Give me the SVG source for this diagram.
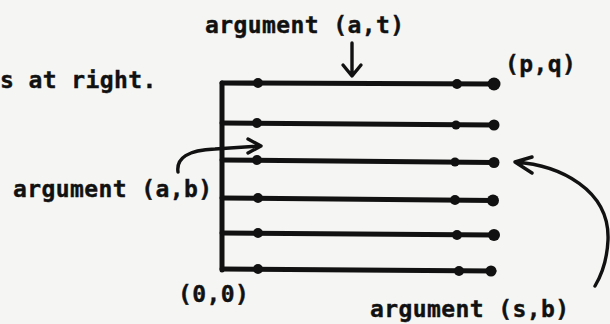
<svg xmlns="http://www.w3.org/2000/svg" width="610" height="324" viewBox="0 0 610 324">
<style>
.t{font-family:"DejaVu Sans Mono","Liberation Mono",monospace;font-weight:bold;font-size:23px;letter-spacing:0.4px;fill:#111;stroke:#111;stroke-width:0.4}
.ln{stroke:#111;stroke-width:5;stroke-linecap:round;fill:none}
.cv{stroke:#111;stroke-width:3.4;stroke-linecap:round;stroke-linejoin:round;fill:none}
.d{fill:#111}
</style>
<rect width="610" height="324" fill="#f5f5f3"/>
<g id="grid">
<line class="ln" x1="222" y1="83" x2="222" y2="270"/>
<line class="ln" x1="222" y1="83" x2="494" y2="84"/>
<line class="ln" x1="222" y1="123" x2="494" y2="125"/>
<line class="ln" x1="222" y1="160" x2="494" y2="162.5"/>
<line class="ln" x1="222" y1="198" x2="494" y2="200.5"/>
<line class="ln" x1="222" y1="233" x2="494" y2="235"/>
<line class="ln" x1="222" y1="269" x2="494" y2="271"/>
<circle class="d" cx="258" cy="83" r="5"/>
<circle class="d" cx="257" cy="123" r="5"/>
<circle class="d" cx="257" cy="160" r="5"/>
<circle class="d" cx="258" cy="198" r="5"/>
<circle class="d" cx="258" cy="233" r="5"/>
<circle class="d" cx="258" cy="269" r="5"/>
<circle class="d" cx="457" cy="84" r="5"/>
<circle class="d" cx="456" cy="125" r="4.5"/>
<circle class="d" cx="455" cy="162" r="4.5"/>
<circle class="d" cx="455" cy="200" r="5"/>
<circle class="d" cx="457" cy="235" r="5"/>
<circle class="d" cx="459" cy="271" r="5"/>
<circle class="d" cx="494" cy="84" r="6.5"/>
<circle class="d" cx="494" cy="125" r="5.5"/>
<circle class="d" cx="494" cy="162.5" r="5.5"/>
<circle class="d" cx="493" cy="200.5" r="6"/>
<circle class="d" cx="494" cy="235" r="6"/>
<circle class="d" cx="491" cy="271" r="5.5"/>
</g>
<g id="labels">
<text class="t" x="0" y="88">s at right.</text>
<text class="t" x="205" y="33">argument (a,t)</text>
<text class="t" x="505" y="72">(p,q)</text>
<text class="t" x="13" y="197">argument (a,b)</text>
<text class="t" x="178" y="302">(0,0)</text>
<text class="t" x="370" y="317">argument (s,b)</text>
</g>
<g id="connectors">
<path class="cv" d="M352,43 L352,75 M343,65 L352,76 L361,65"/>
<path class="cv" d="M178,172 C176,158 188,150 215,149 L261,146 M248,139 L261,146 L248,153"/>
<path class="cv" d="M515,162 C560,165 610,190 608,240 C607,262 601,276 595,286 M532,157 L515,162 L532,173"/>
</g>
</svg>
